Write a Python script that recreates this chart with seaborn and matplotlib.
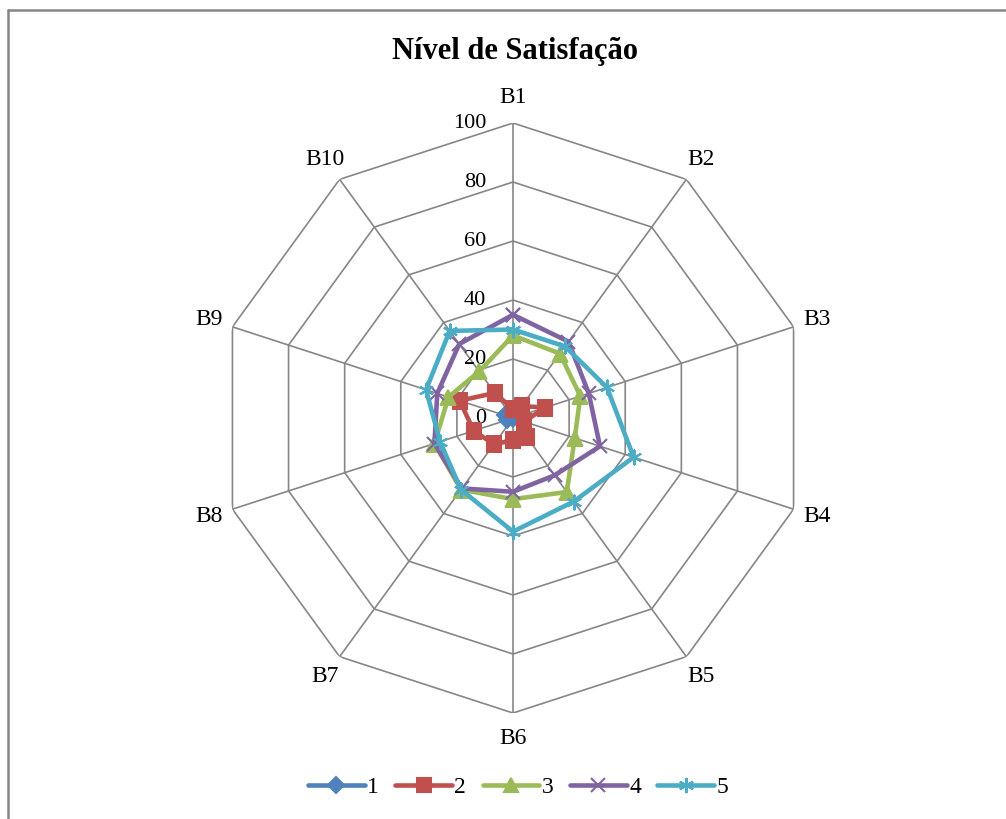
import numpy as np
import pandas as pd
import seaborn as sns
import matplotlib
matplotlib.use("Agg")
import matplotlib.pyplot as plt
from matplotlib.lines import Line2D

sns.set_theme(style="white")
plt.rcParams['font.family'] = ['Liberation Serif', 'DejaVu Serif']
plt.rcParams['text.color'] = 'black'

# dados
categorias = ['B1', 'B2', 'B3', 'B4', 'B5', 'B6', 'B7', 'B8', 'B9', 'B10']
serie_1 = [0, 0, 0, 0, 0, 0, 0, 2, 3, 0]
serie_2 = [3, 5, 11.5, 4, 8, 7.5, 11, 14, 19, 10.5]
serie_3 = [28, 27, 24, 22, 31, 27.5, 30, 28, 23, 19.5]
serie_4 = [35, 32, 27, 31, 24, 25, 29.5, 28, 27, 31]
serie_5 = [30, 30, 33.5, 43, 35, 38.5, 30, 26, 31, 36.5]
nomes = ['1', '2', '3', '4', '5']
ticks = [0, 20, 40, 60, 80, 100]

cores = ['#4F81BD', '#C0504D', '#9BBB59', '#8064A2', '#4BACC6']
marcadores = ['D', 's', '^', 'x', (6, 2, 0)]
tamanhos = [8, 10, 10, 10, 11]

df = pd.DataFrame({'cat': categorias, '1': serie_1, '2': serie_2,
                   '3': serie_3, '4': serie_4, '5': serie_5})

n = len(categorias)
angulos = np.arange(n) * 2 * np.pi / n
ang_fech = np.append(angulos, angulos[0])

fig = plt.figure(figsize=(10.06, 8.19), dpi=100)
ax = fig.add_axes([0.2167, 0.1294, 0.5865, 0.7204], projection='polar')
ax.set_theta_zero_location('N')
ax.set_theta_direction(-1)
ax.set_ylim(0, 100)
ax.grid(False)
ax.spines['polar'].set_visible(False)
ax.set_xticks([])
ax.set_yticks([])
ax.patch.set_alpha(0)

# grade poligonal
for r in ticks[1:]:
    ax.plot(ang_fech, [r] * (n + 1), color='#868686', lw=1.2, zorder=1)
for a in angulos:
    ax.plot([a, a], [0, 100], color='#868686', lw=1.2, zorder=1)

# rotulos do eixo radial
for t in ticks:
    ax.annotate(str(t), xy=(0, t), xytext=(-27, 0), textcoords='offset pixels',
                ha='right', va='center', fontsize=16, color='black')

# rotulos das categorias
for a, c in zip(angulos, categorias):
    ax.text(a, 108.5, c, ha='center', va='center', fontsize=17, color='black')

for i, nome in enumerate(nomes):
    vals = df[nome].tolist()
    ax.plot(ang_fech, vals + [vals[0]], color=cores[i], lw=3.3,
            marker=marcadores[i], markersize=tamanhos[i],
            markeredgewidth=1.5, label=nome, zorder=3 + i)

fig.suptitle('Nível de Satisfação', x=0.512, y=0.955, fontsize=22,
             fontweight='bold', color='black')

handles, labels = ax.get_legend_handles_labels()
leg = fig.legend(handles, labels, loc='center', bbox_to_anchor=(0.515, 0.039),
                 ncol=5, frameon=False, fontsize=17, handlelength=2.4,
                 columnspacing=0.7, handletextpad=0.1)
for txt in leg.get_texts():
    txt.set_color('black')

# moldura
fig.add_artist(Line2D([7.5 / 1006, 7.5 / 1006], [0, 1 - 9.5 / 819],
                      transform=fig.transFigure, color='#868686', lw=1.8))
fig.add_artist(Line2D([7.5 / 1006, 1], [1 - 9.5 / 819, 1 - 9.5 / 819],
                      transform=fig.transFigure, color='#868686', lw=1.8))

fig.savefig('out.png', dpi=100)
